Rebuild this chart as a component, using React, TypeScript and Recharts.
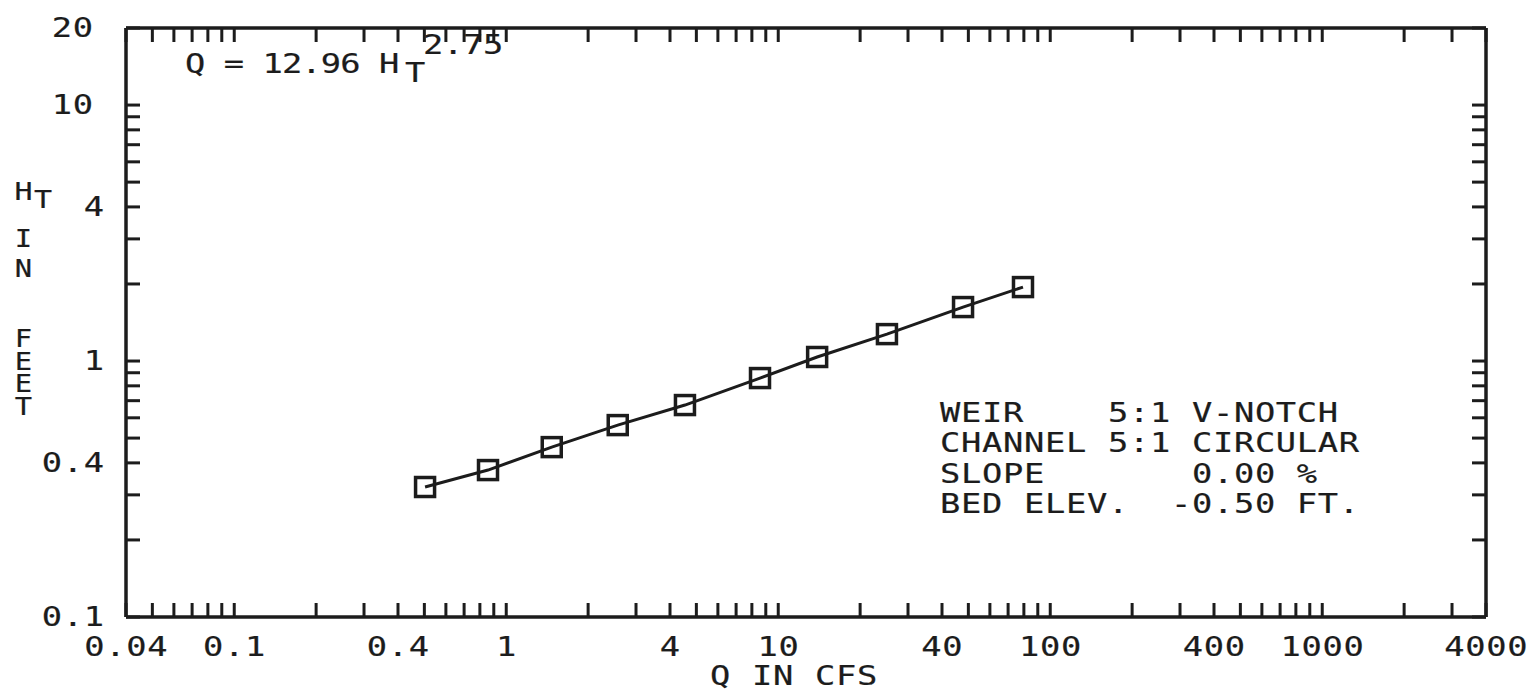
import React from 'react';
import { ComposedChart, Line, XAxis, YAxis } from 'recharts';

// Discharge Q (cfs) and head H_T (ft)
const qCfs = [0.503, 0.857, 1.47, 2.57, 4.54, 8.57, 13.9, 25.1, 47.8, 79.4];
const hFeet = [0.322, 0.375, 0.461, 0.562, 0.673, 0.858, 1.037, 1.274, 1.625, 1.945];

const xTickValues = [
  0.04, 0.05, 0.06, 0.07, 0.08, 0.09, 0.1, 0.2, 0.3, 0.4, 0.5, 0.6, 0.7, 0.8, 0.9,
  1, 2, 3, 4, 5, 6, 7, 8, 9, 10, 20, 30, 40, 50, 60, 70, 80, 90,
  100, 200, 300, 400, 500, 600, 700, 800, 900, 1000, 2000, 3000, 4000,
];
const xTickLabels = [0.04, 0.1, 0.4, 1, 4, 10, 40, 100, 400, 1000, 4000];
const yTickValues = [
  0.1, 0.2, 0.3, 0.4, 0.5, 0.6, 0.7, 0.8, 0.9, 1, 2, 3, 4, 5, 6, 7, 8, 9, 10, 20,
];
const yTickLabels = [0.1, 0.4, 1, 4, 10, 20];
const xDomain = [0.04, 4000];
const yDomain = [0.1, 20];

const legendLines = [
  'WEIR    5:1 V-NOTCH',
  'CHANNEL 5:1 CIRCULAR',
  'SLOPE       0.00 %',
  'BED ELEV.  -0.50 FT.',
];

const rows = qCfs.map((q, i) => ({ q, h: hFeet[i] }));

const INK = '#1c1c1c';
const FONT = '"DejaVu Sans Mono", monospace';
const FS = 27;
const SX = 1.25;
const ADV = 0.602;
const VADV = 1.164; // vertical advance of DejaVu Sans Mono, in em
const STROKE = 0.2;

const nb = (s: string) => s.replace(/ /g, '\u00A0');
const hasVal = (arr: number[], v: number) =>
  arr.some((a) => Math.abs(a - v) < 1e-9 * Math.max(1, Math.abs(v)));

type PTextProps = {
  x: number;
  y: number;
  anchor?: 'start' | 'middle' | 'end';
  pitch?: number;
  size?: number;
  children: React.ReactNode;
};

// Plotter-like text: wide monospaced glyphs on a fixed character pitch
function PText({ x, y, anchor = 'start', pitch = 21, size = FS, children }: PTextProps) {
  const adv = ADV * size * SX;
  const ls = (pitch - adv) / SX;
  const shift = anchor === 'end' ? ls * SX : anchor === 'middle' ? (ls * SX) / 2 : 0;
  return (
    <text
      transform={`translate(${x + shift},${y}) scale(${SX},1)`}
      x={0}
      y={0}
      textAnchor={anchor}
      fontFamily={FONT}
      fontSize={size}
      fill={INK}
      stroke={INK}
      strokeWidth={STROKE}
      style={{ letterSpacing: `${ls}px` }}
    >
      {children}
    </text>
  );
}

// Vertical column of upright letters (one text element)
function VText({ x, y, pitch, size = 24, children }: { x: number; y: number; pitch: number; size?: number; children: string }) {
  return (
    <text
      transform={`translate(${x},${y}) scale(1.2,1)`}
      x={0}
      y={0}
      fontFamily={FONT}
      fontSize={size}
      fill={INK}
      stroke={INK}
      strokeWidth={STROKE}
      style={{
        writingMode: 'vertical-lr',
        textOrientation: 'upright',
        letterSpacing: `${pitch - VADV * size}px`,
      } as any}
    >
      {children}
    </text>
  );
}

function XTick(props: any) {
  const { x, y, payload } = props;
  if (!hasVal(xTickLabels, payload.value)) return <g />;
  return (
    <PText x={x} y={y} anchor="middle" pitch={21}>
      {String(payload.value)}
    </PText>
  );
}

function YTick(props: any) {
  const { x, y, payload } = props;
  if (!hasVal(yTickLabels, payload.value)) return <g />;
  const dx = payload.value >= 10 ? -11 : 0;
  return (
    <PText x={x + dx} y={y + 9} anchor="end" pitch={21}>
      {String(payload.value)}
    </PText>
  );
}

function EmptyTick() {
  return <g />;
}

function Square(props: any) {
  const { cx, cy, index } = props;
  if (cx == null || cy == null) return <g key={`s${index}`} />;
  return (
    <rect
      key={`s${index}`}
      x={cx - 9.5}
      y={cy - 9.5}
      width={19}
      height={19}
      fill="none"
      stroke={INK}
      strokeWidth={3.5}
    />
  );
}

const axisLine = { stroke: INK, strokeWidth: 3.5 };
const tickLine = { stroke: INK, strokeWidth: 3 };

export default function App() {
  return (
    <div style={{ position: 'relative', width: 1523, height: 683, background: '#fff' }}>
      <ComposedChart
        width={1523}
        height={675}
        data={rows}
        margin={{ top: 19, right: 44, bottom: 0, left: 0 }}
      >
        <XAxis
          dataKey="q"
          type="number"
          scale="log"
          domain={xDomain}
          ticks={xTickValues}
          interval={0}
          allowDataOverflow
          height={66}
          tickSize={-14}
          tickMargin={53}
          axisLine={axisLine}
          tickLine={tickLine}
          tick={XTick}
        />
        <XAxis
          xAxisId="top"
          orientation="top"
          dataKey="q"
          type="number"
          scale="log"
          domain={xDomain}
          ticks={xTickValues}
          interval={0}
          allowDataOverflow
          height={1}
          tickSize={-14}
          axisLine={axisLine}
          tickLine={tickLine}
          tick={EmptyTick}
        />
        <YAxis
          dataKey="h"
          type="number"
          scale="log"
          domain={yDomain}
          ticks={yTickValues}
          interval={0}
          allowDataOverflow
          width={118}
          tickSize={-14}
          tickMargin={36}
          axisLine={axisLine}
          tickLine={tickLine}
          tick={YTick}
        />
        <YAxis
          yAxisId="right"
          orientation="right"
          dataKey="h"
          type="number"
          scale="log"
          domain={yDomain}
          ticks={yTickValues}
          interval={0}
          allowDataOverflow
          width={1}
          tickSize={-14}
          axisLine={axisLine}
          tickLine={tickLine}
          tick={EmptyTick}
        />
        {/* invisible series that binds the top and right frame axes */}
        <Line
          xAxisId="top"
          yAxisId="right"
          dataKey="h"
          stroke="none"
          dot={false}
          activeDot={false}
          legendType="none"
          isAnimationActive={false}
        />
        <Line
          dataKey="h"
          type="linear"
          stroke={INK}
          strokeWidth={3}
          dot={Square}
          activeDot={false}
          isAnimationActive={false}
        />
      </ComposedChart>
      <svg
        width={1523}
        height={683}
        style={{ position: 'absolute', left: 0, top: 0, pointerEvents: 'none' }}
      >
        {/* equation */}
        <PText x={177} y={65} pitch={19.4}>
          {nb('Q = 12.96 H')}
        </PText>
        <PText x={397} y={74} pitch={19.4}>T</PText>
        <PText x={415} y={46} pitch={20}>2.75</PText>

        {/* legend block */}
        {legendLines.map((line, i) => (
          <PText key={line} x={932} y={414 + i * 30.4} pitch={21}>
            {nb(line)}
          </PText>
        ))}

        {/* y axis title */}
        <PText x={15.5} y={192} size={24} anchor="middle" pitch={20}>H</PText>
        <PText x={35} y={200} size={24} anchor="middle" pitch={20}>T</PText>
        <VText x={15.5} y={216} pitch={30}>IN</VText>
        <VText x={15.5} y={316} pitch={22.8}>FEET</VText>

        {/* x axis title */}
        <PText x={702} y={677} pitch={21}>
          {nb('Q IN CFS')}
        </PText>
      </svg>
    </div>
  );
}
